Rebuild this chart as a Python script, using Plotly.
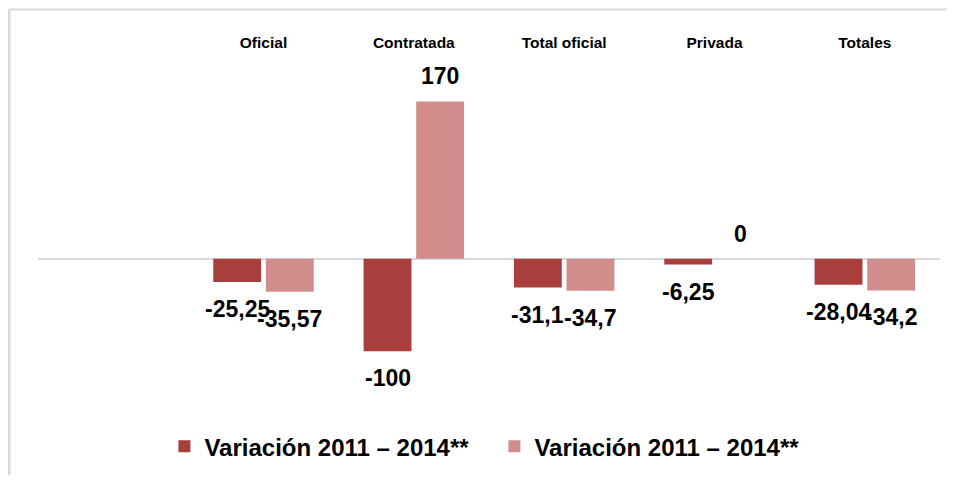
import plotly.graph_objects as go

categories = ["Oficial", "Contratada", "Total oficial", "Privada", "Totales"]
serie1_name = "Variación 2011 – 2014**"
serie2_name = "Variación 2011 – 2014**"
serie1 = [-25.25, -100, -31.1, -6.25, -28.04]
serie2 = [-35.57, 170, -34.7, 0, -34.2]
labels1 = ["-25,25", "-100", "-31,1", "-6,25", "-28,04"]
labels2 = ["-35,57", "170", "-34,7", "0", "-34,2"]

FONT = "Liberation Sans, Arial, sans-serif"
C1 = "#A93F3D"
C2 = "#D08D8C"

BARGAP = 0.3
GROUPGAP = 0.09

fig = go.Figure()
fig.add_trace(go.Bar(x=categories, y=serie1, name=serie1_name,
                     marker=dict(color=C1, line=dict(width=0))))
fig.add_trace(go.Bar(x=categories, y=serie2, name=serie2_name,
                     marker=dict(color=C2, line=dict(width=0))))

slot = (1 - BARGAP) / 2
annotations = []
for k, (vals, labs) in enumerate([(serie1, labels1), (serie2, labels2)]):
    off = (k - 0.5) * slot
    for i, (v, t) in enumerate(zip(vals, labs)):
        neg = v < 0
        annotations.append(dict(
            x=i + off, y=v, xref="x", yref="y", text=t, showarrow=False,
            yanchor="top" if neg else "bottom",
            yshift=-12 if neg else 10,
            font=dict(family=FONT, size=23, color="black", weight="bold"),
        ))

# frame lines (light gray border of the chart area)
shapes = [
    dict(type="line", xref="paper", yref="paper", x0=-0.0322, x1=1.2,
         y0=1.143, y1=1.143, line=dict(color="#D9D9D9", width=2)),
    dict(type="line", xref="paper", yref="paper", x0=-0.0322, x1=-0.0322,
         y0=1.143, y1=-0.4, line=dict(color="#D9D9D9", width=3)),
]

fig.update_layout(
    width=938, height=467,
    margin=dict(l=30, r=6, t=50, b=75),
    paper_bgcolor="white", plot_bgcolor="white",
    barmode="group", bargap=BARGAP, bargroupgap=GROUPGAP,
    showlegend=True,
    legend=dict(orientation="h", x=0.506, xanchor="center", y=-0.143, yanchor="middle",
                font=dict(family=FONT, size=24, color="black", weight="bold"),
                itemwidth=30, entrywidth=285, traceorder="normal"),
    xaxis=dict(side="top", range=[-1.5, 4.5], showgrid=False, showline=False,
               ticks="", zeroline=False, ticklabelstandoff=6,
               tickfont=dict(family=FONT, size=15.5, color="black", weight="bold")),
    yaxis=dict(range=[-150.5, 217], showgrid=False, showline=False, ticks="",
               showticklabels=False, zeroline=True, zerolinecolor="#D9D9D9",
               zerolinewidth=2),
    annotations=annotations,
    shapes=shapes,
)

fig.write_html("out.html")
